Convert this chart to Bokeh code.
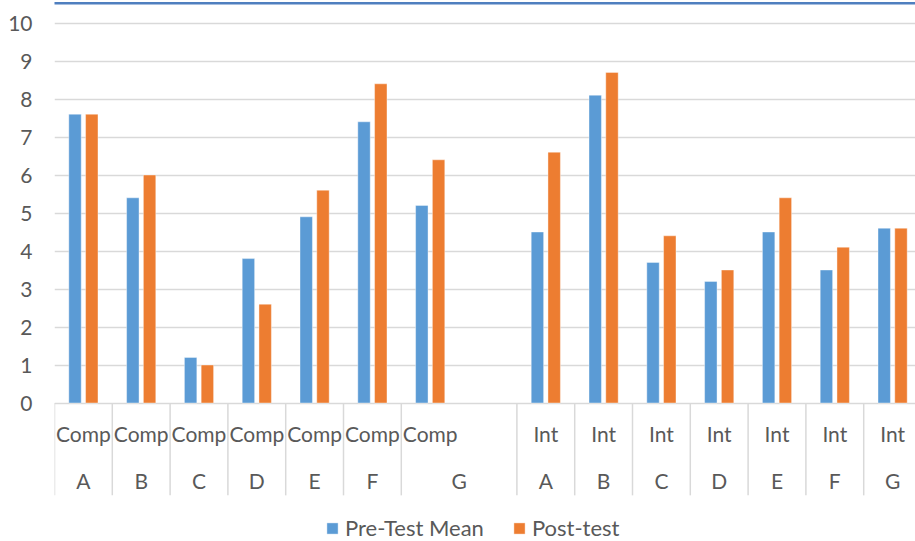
from bokeh.plotting import figure
from bokeh.models import Range1d, FixedTicker, BoxAnnotation, Legend, LegendItem
from bokeh.core.properties import value
from bokeh.embed import file_html
from bokeh.resources import INLINE

# ---- data ----
groups = ["Comp", "Comp", "Comp", "Comp", "Comp", "Comp", "Comp", "",
          "Int", "Int", "Int", "Int", "Int", "Int", "Int"]
letters = ["A", "B", "C", "D", "E", "F", "G", "A", "B", "C", "D", "E", "F", "G"]
letter_spans = [1, 1, 1, 1, 1, 1, 2, 1, 1, 1, 1, 1, 1, 1]
pre_test = [7.6, 5.4, 1.2, 3.8, 4.9, 7.4, 5.2, None,
            4.5, 8.1, 3.7, 3.2, 4.5, 3.5, 4.6]
post_test = [7.6, 6.0, 1.0, 2.6, 5.6, 8.4, 6.4, None,
             6.6, 8.7, 4.4, 3.5, 5.4, 4.1, 4.6]
y_ticks = [0, 1, 2, 3, 4, 5, 6, 7, 8, 9, 10]

BLUE = "#5B9BD5"
ORANGE = "#ED7D31"
GRID = "#D9D9D9"
TXT = "#595959"
FONT = "Lato"
FS = "21px"

W, H = 915, 541
LEFT = 54
TOP_PX = 22.5          # pixel position of value 10
PX_PER_UNIT = 38.0
slot_px = 57.8
x_end = (W - LEFT) / slot_px
y_end = 10 + TOP_PX / PX_PER_UNIT
y_start = y_end - H / PX_PER_UNIT

p = figure(width=W, height=H, output_backend="svg", toolbar_location=None,
           x_axis_location=None, x_range=Range1d(0, x_end),
           y_range=Range1d(y_start, y_end),
           min_border_left=LEFT, min_border_right=0, min_border_top=0,
           min_border_bottom=0)
p.outline_line_color = None
p.background_fill_color = "white"
p.border_fill_color = "white"

# y axis
p.yaxis.ticker = FixedTicker(ticks=y_ticks)
p.yaxis.axis_line_color = None
p.yaxis.major_tick_line_color = None
p.yaxis.minor_tick_line_color = None
p.yaxis.major_tick_out = 0
p.yaxis.major_tick_in = 0
p.yaxis.major_label_standoff = 22
p.yaxis.major_label_text_font = FONT
p.yaxis.major_label_text_font_size = FS
p.yaxis.major_label_text_color = TXT

p.ygrid.ticker = FixedTicker(ticks=y_ticks)
p.ygrid.grid_line_color = GRID
p.ygrid.grid_line_width = 1.3
p.xgrid.visible = False

# top border line across the whole canvas
p.add_layout(BoxAnnotation(left=0, right=W, top=1.5, bottom=4,
                           left_units="canvas", right_units="canvas",
                           top_units="canvas", bottom_units="canvas",
                           fill_color="#4F7FBF", fill_alpha=1,
                           line_color=None))

# bars
xs_pre = [i + 0.5 - 0.145 for i, v in enumerate(pre_test) if v is not None]
ys_pre = [v for v in pre_test if v is not None]
xs_post = [i + 0.5 + 0.145 for i, v in enumerate(post_test) if v is not None]
ys_post = [v for v in post_test if v is not None]

r_pre = p.vbar(x=xs_pre, top=ys_pre, bottom=0, width=0.215, fill_color=BLUE,
               line_color="white", line_width=0.8, line_alpha=0.5)
r_post = p.vbar(x=xs_post, top=ys_post, bottom=0, width=0.215, fill_color=ORANGE,
                line_color="white", line_width=0.8, line_alpha=0.5)

# category axis (two levels)
row1_y = -0.80
row2_y = -2.04
sep_bottom = -2.43

g_x = [i + 0.5 for i, g in enumerate(groups) if g]
g_t = [g for g in groups if g]
p.text(x=g_x, y=[row1_y] * len(g_x), text=g_t, text_font=value(FONT),
       text_font_size=FS, text_color=TXT, text_align="center",
       text_baseline="middle")

bounds = [0]
for s in letter_spans:
    bounds.append(bounds[-1] + s)
l_x = [(bounds[k] + bounds[k + 1]) / 2 for k in range(len(letters))]
p.text(x=l_x, y=[row2_y] * len(l_x), text=letters, text_font=value(FONT),
       text_font_size=FS, text_color=TXT, text_align="center",
       text_baseline="middle")

p.segment(x0=bounds, y0=[0] * len(bounds), x1=bounds,
          y1=[sep_bottom] * len(bounds), line_color=GRID, line_width=1.5)

# legend
legend = Legend(items=[LegendItem(label="Pre-Test Mean", renderers=[r_pre]),
                       LegendItem(label="Post-test", renderers=[r_post])],
                orientation="horizontal", location=(271, 0),
                glyph_width=14, glyph_height=14, label_standoff=6, spacing=28,
                label_text_font=FONT, label_text_font_size="22px",
                label_text_color=TXT, padding=0, margin=0,
                border_line_color=None, background_fill_alpha=0,
                label_height=22)
p.add_layout(legend)

open("out.html", "w").write(file_html(p, INLINE))
